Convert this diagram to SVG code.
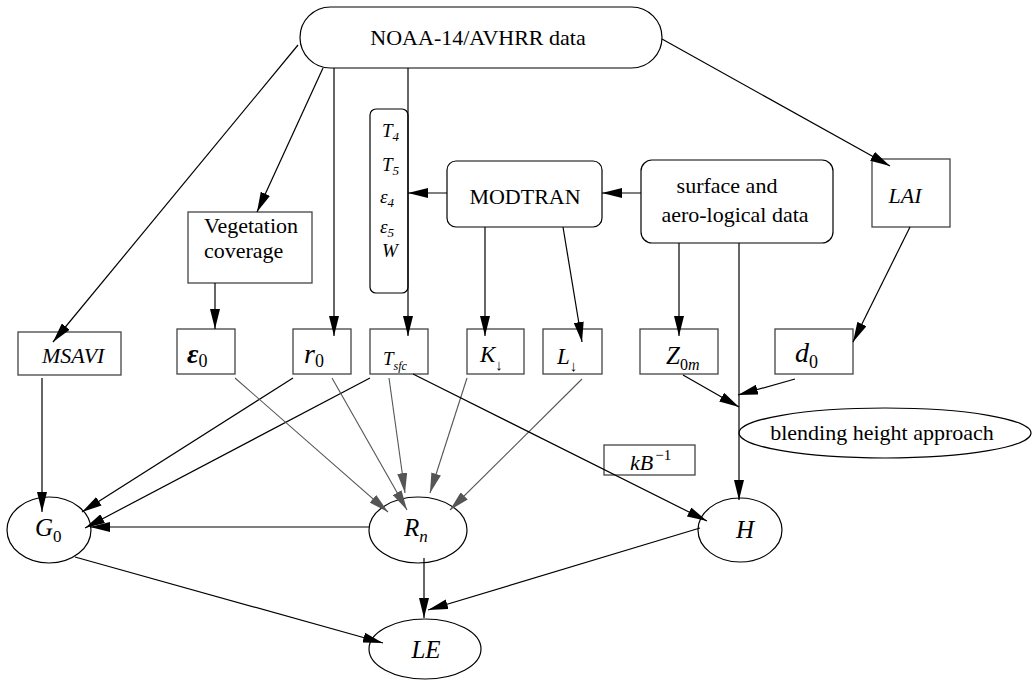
<svg xmlns="http://www.w3.org/2000/svg" width="1032" height="680" viewBox="0 0 1032 680" font-family="'Liberation Serif', 'DejaVu Serif', serif">
  <style>
    text { font-family: 'Liberation Serif', 'DejaVu Serif', serif; fill: #000; }
    .lbl { font-size: 22px; }
    .it { font-style: italic; }
    .box { fill: #fff; stroke: #444; stroke-width: 1.3; }
    .rbox { fill: #fff; stroke: #000; stroke-width: 1.2; }
    .ell { fill: #fff; stroke: #000; stroke-width: 1.2; }
    .edge { fill: none; stroke: #000; stroke-width: 1.2; marker-end: url(#arrow); }
    .edge-g { fill: none; stroke: #555; stroke-width: 1.1; marker-end: url(#arrow-g); }
  </style>
  <defs>
    <marker id="arrow" markerUnits="userSpaceOnUse" markerWidth="20" markerHeight="10" refX="20" refY="5" orient="auto">
      <path d="M0,0 L20,5 L0,10 z" fill="#000"/>
    </marker>
    <marker id="arrow-g" markerUnits="userSpaceOnUse" markerWidth="20" markerHeight="10" refX="20" refY="5" orient="auto">
      <path d="M0,0 L20,5 L0,10 z" fill="#555"/>
    </marker>
  </defs>

  <rect width="1032" height="680" fill="#fff"/>

  <!-- nodes -->
  <g id="noaa">
    <rect class="rbox" x="300" y="7" width="362" height="61" rx="30.5"/>
    <text class="lbl" x="478" y="45" text-anchor="middle">NOAA-14/AVHRR data</text>
  </g>

  <g id="vegetation">
    <rect class="box" x="188" y="212" width="124" height="71"/>
    <text class="lbl" x="204" y="233">Vegetation</text>
    <text class="lbl" x="204" y="258">coverage</text>
  </g>

  <g id="bands">
    <rect class="rbox" x="370" y="109" width="38" height="184" rx="6"/>
    <text class="it" font-size="19" x="382" y="137">T<tspan font-size="13" dy="4">4</tspan></text>
    <text class="it" font-size="19" x="382" y="171">T<tspan font-size="13" dy="4">5</tspan></text>
    <text class="it" font-size="19" x="380" y="203">ε<tspan font-size="13" dy="4">4</tspan></text>
    <text class="it" font-size="19" x="380" y="233">ε<tspan font-size="13" dy="4">5</tspan></text>
    <text class="it" font-size="19" x="382" y="257">W</text>
  </g>

  <g id="modtran">
    <rect class="rbox" x="447" y="161" width="155" height="66" rx="9"/>
    <text class="lbl" x="525" y="204" text-anchor="middle">MODTRAN</text>
  </g>

  <g id="surface">
    <rect class="rbox" x="641" y="160" width="192" height="83" rx="11"/>
    <text class="lbl" x="727" y="193" text-anchor="middle">surface and</text>
    <text class="lbl" x="735" y="222" text-anchor="middle">aero-logical data</text>
  </g>

  <g id="lai">
    <rect class="box" x="872" y="159" width="78" height="68"/>
    <text class="lbl it" x="905" y="203" text-anchor="middle">LAI</text>
  </g>

  <g id="msavi">
    <rect class="box" x="18" y="332" width="103" height="43"/>
    <text class="lbl it" x="42" y="363">MSAVI</text>
  </g>

  <g id="eps0">
    <rect class="box" x="177" y="329" width="58" height="45"/>
    <text class="it" font-size="28" font-weight="bold" x="187" y="363">ε<tspan font-size="18" font-style="normal" font-weight="normal" dy="4">0</tspan></text>
  </g>

  <g id="r0">
    <rect class="box" x="293" y="329" width="58" height="45"/>
    <text class="it" font-size="28" x="304" y="363">r<tspan font-size="18" font-style="normal" dy="4">0</tspan></text>
  </g>

  <g id="tsfc">
    <rect class="box" x="370" y="329" width="58" height="45"/>
    <text class="it" font-size="19" x="383" y="365">T<tspan font-size="12" dy="5">sfc</tspan></text>
  </g>

  <g id="kdown">
    <rect class="box" x="467" y="329" width="57" height="45"/>
    <text class="it" font-size="23" x="480" y="362">K<tspan font-size="15" font-style="normal" dy="8">↓</tspan></text>
  </g>

  <g id="ldown">
    <rect class="box" x="543" y="329" width="59" height="45"/>
    <text class="it" font-size="23" x="557" y="364">L<tspan font-size="15" font-style="normal" dy="7">↓</tspan></text>
  </g>

  <g id="z0m">
    <rect class="box" x="640" y="329" width="78" height="45"/>
    <text class="it" font-size="25" x="666" y="364">Z<tspan font-size="16" font-style="normal" dy="6">0</tspan><tspan font-size="16" dy="0">m</tspan></text>
  </g>

  <g id="d0">
    <rect class="box" x="775" y="329" width="78" height="45"/>
    <text class="it" font-size="28" x="795" y="362">d<tspan font-size="18" font-style="normal" dy="6">0</tspan></text>
  </g>

  <g id="blending">
    <ellipse class="ell" cx="885" cy="433" rx="146" ry="25"/>
    <text class="lbl" x="882" y="440" text-anchor="middle">blending height approach</text>
  </g>

  <g id="kb">
    <rect class="box" x="604" y="445" width="91" height="30"/>
    <text class="it" font-size="22" x="630" y="470">kB<tspan font-size="15" font-style="normal" dx="2" dy="-10">−1</tspan></text>
  </g>

  <g id="g0">
    <ellipse class="ell" cx="49" cy="530" rx="42" ry="33"/>
    <text class="it" font-size="25" x="35" y="536">G<tspan font-size="17" font-style="normal" dy="6">0</tspan></text>
  </g>

  <g id="rn">
    <ellipse class="ell" cx="418" cy="530" rx="49" ry="33"/>
    <text class="it" font-size="25" x="404" y="536">R<tspan font-size="17" dy="6">n</tspan></text>
  </g>

  <g id="h">
    <ellipse class="ell" cx="740" cy="530" rx="42" ry="32"/>
    <text class="it" font-size="25" x="745" y="538" text-anchor="middle">H</text>
  </g>

  <g id="le">
    <ellipse class="ell" cx="425" cy="649" rx="56" ry="30"/>
    <text class="it" font-size="25" x="426" y="658" text-anchor="middle">LE</text>
  </g>

  <!-- connectors -->
  <g id="connectors">
    <line class="edge" x1="298" y1="45" x2="53" y2="342"/>
    <line class="edge" x1="323" y1="68" x2="257" y2="212"/>
    <line class="edge" x1="334" y1="68" x2="334" y2="336"/>
    <line class="edge" x1="408" y1="68" x2="408" y2="336"/>
    <line class="edge" x1="662" y1="39" x2="890" y2="166"/>
    <line class="edge" x1="215" y1="283" x2="215" y2="329"/>
    <line class="edge" x1="641" y1="193" x2="602" y2="193"/>
    <line class="edge" x1="447" y1="193" x2="408" y2="193"/>
    <line class="edge" x1="485" y1="227" x2="485" y2="336"/>
    <line class="edge" x1="563" y1="227" x2="582" y2="342"/>
    <line class="edge" x1="679" y1="243" x2="679" y2="336"/>
    <line class="edge" x1="739" y1="243" x2="739" y2="500"/>
    <line class="edge" x1="910" y1="227" x2="853" y2="342"/>
    <line class="edge" x1="683" y1="375" x2="739" y2="407"/>
    <line class="edge" x1="795" y1="379" x2="738" y2="395"/>
    <line class="edge" x1="42" y1="378" x2="42" y2="512"/>
    <line class="edge" x1="293" y1="378" x2="82" y2="512"/>
    <line class="edge" x1="370" y1="378" x2="85" y2="528"/>
    <line class="edge" x1="369" y1="527" x2="90" y2="527"/>
    <line class="edge-g" x1="235" y1="378" x2="388" y2="512"/>
    <line class="edge-g" x1="332" y1="378" x2="407" y2="510"/>
    <line class="edge-g" x1="389" y1="378" x2="405" y2="493"/>
    <line class="edge-g" x1="467" y1="378" x2="430" y2="493"/>
    <line class="edge-g" x1="582" y1="379" x2="450" y2="510"/>
    <line class="edge" x1="413" y1="374" x2="707" y2="521"/>
    <line class="edge" x1="75" y1="557" x2="383" y2="643"/>
    <line class="edge" x1="424" y1="558" x2="424" y2="618"/>
    <line class="edge" x1="700" y1="528" x2="428" y2="610"/>
  </g>
</svg>
